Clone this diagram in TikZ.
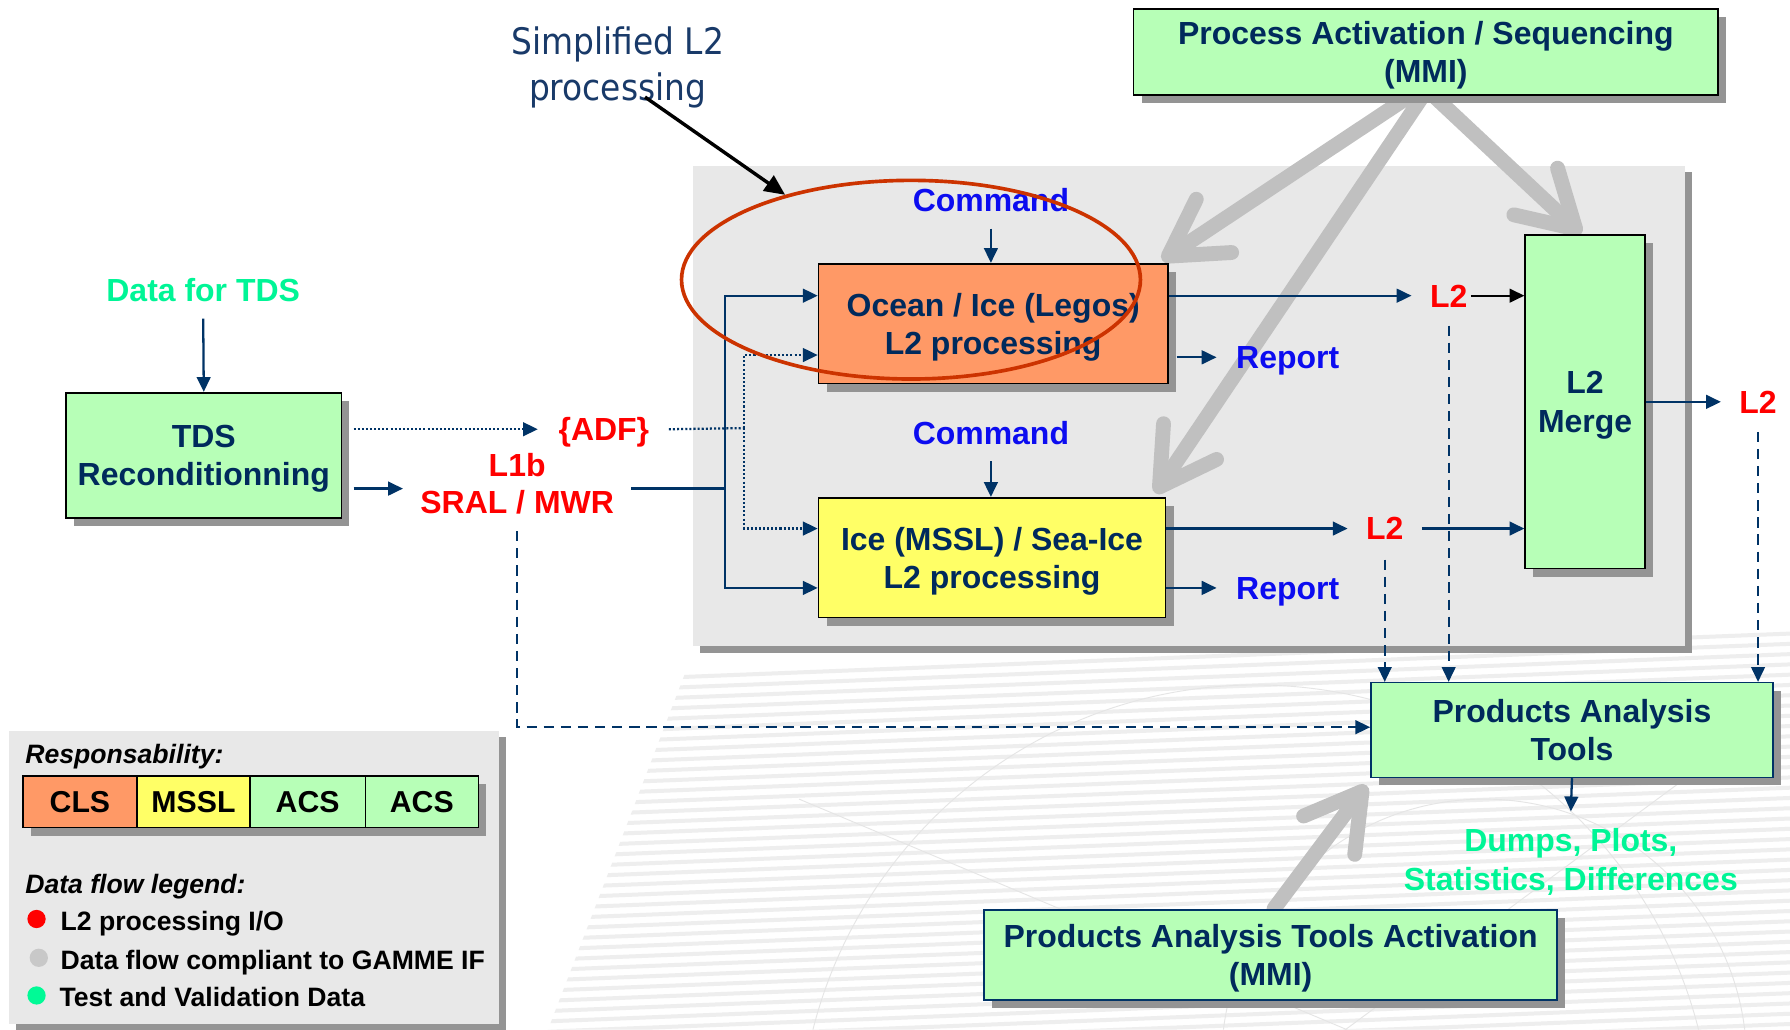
\documentclass[tikz,border=0pt]{standalone}
\usepackage{fontspec}
\setmainfont{Liberation Sans}
\newfontfamily\tahomalike{DejaVu Sans}[FakeStretch=0.9]
\usetikzlibrary{arrows.meta,shadows,shapes.geometric,calc}
\definecolor{navy}{RGB}{0,51,102}
\definecolor{navytext}{RGB}{0,42,92}
\definecolor{boxgreen}{RGB}{183,255,183}
\definecolor{boxorange}{RGB}{255,153,102}
\definecolor{boxyellow}{RGB}{255,255,102}
\definecolor{panelgray}{RGB}{232,232,232}
\definecolor{shadowgray}{RGB}{148,148,148}
\definecolor{arrowgray}{RGB}{192,192,192}
\definecolor{cmdblue}{RGB}{12,12,240}
\definecolor{tvgreen}{RGB}{0,245,150}
\definecolor{ellred}{RGB}{204,51,0}
\definecolor{titleblue}{RGB}{25,58,105}
\definecolor{stripegray}{RGB}{238,238,238}
\newcommand\bxfont{\fontsize{28}{33.5}\selectfont\bfseries}
\newcommand\lgfont{\fontsize{23.3}{28}\selectfont\bfseries}
\tikzset{
  box/.style={draw=black, line width=1.4pt, text=navytext, align=center, inner sep=0pt, font=\bxfont,
    text depth=0pt,
    general shadow={fill=shadowgray, shadow xshift=7pt, shadow yshift=-7pt}},
  panel/.style={fill=panelgray, draw=none, inner sep=0pt,
    general shadow={fill=shadowgray, shadow xshift=6pt, shadow yshift=-6pt}},
  lbl/.style={inner sep=0pt, font=\bxfont, text height=20pt, text depth=0pt},
  mlbl/.style={inner sep=0pt, font=\bxfont, align=center},
  leglbl/.style={inner sep=0pt, font=\lgfont, text height=17pt, text depth=0pt, anchor=west},
  legbox/.style={draw=black, line width=1.4pt, inner sep=0pt, font=\fontsize{26.5}{30}\selectfont\bfseries,
    minimum height=45pt, text height=19pt, text depth=0pt,
    general shadow={fill=shadowgray, shadow xshift=7pt, shadow yshift=-7pt}},
  dotc/.style={circle, inner sep=0pt, minimum size=16pt},
  flowline/.style={navy, line width=2pt},
  flow/.style={flowline, -{Triangle[length=13pt,width=12pt]}},
  blackflow/.style={black, line width=2pt, -{Triangle[length=13pt,width=12pt]}},
  dotline/.style={navy, line width=2pt, dash pattern=on 1.8pt off 1.8pt},
  dotflow/.style={dotline, -{Triangle[length=13pt,width=12pt]}},
  dashflow/.style={navy, line width=1.8pt, dash pattern=on 9pt off 6pt, -{Triangle[length=13pt,width=12pt]}},
  garrow/.style={arrowgray, line width=13pt, line cap=round,
    -{Straight Barb[round, length=48pt, width=56pt]}},
}
\begin{document}
\begin{tikzpicture}[x=1pt,y=-1pt]
\useasboundingbox (0,0) rectangle (1568,902);
\fill[white] (0,0) rectangle (1568,902);

% faint background watermark
\begin{scope}
  \clip (480,902) -- (600,590) -- (1568,540) -- (1568,902) -- cycle;
  \foreach \k in {0,...,42} {
    \draw[stripegray, line width=3.5pt] (420,{600+\k*9}) -- (1568,{555+\k*9});
  }
  \draw[gray!20, line width=0.8pt] (1300,930) circle (230);
  \draw[gray!20, line width=0.8pt] (1100,1000) circle (400);
  \draw[gray!20, line width=0.8pt] (1560,620) -- (1100,960);
  \draw[gray!20, line width=0.8pt] (700,700) -- (1180,902);
\end{scope}

% panels
\node[panel, minimum width=869pt, minimum height=421pt] (panel) at (1041.5,355.5) {};
\node[panel, minimum width=429pt, minimum height=257pt] (legend) at (222.5,768.5) {};

% gray activation arrows (under the boxes)
\draw[garrow] (1232,86) -- (1018,228);
\draw[garrow] (1245,86) -- (1012,432);
\draw[garrow] (1258,86) -- (1385,205);
\draw[garrow] (1116,796) -- (1197,688);

% boxes
\node[box, fill=boxgreen, minimum width=512pt, minimum height=75pt] (proc) at (1249,45.5) {Process Activation / Sequencing\\(MMI)};
\node[box, fill=boxorange, minimum width=306pt, minimum height=105pt] (ocean) at (870,283.5) {Ocean / Ice (Legos)\\L2 processing};
\node[box, fill=boxyellow, minimum width=304pt, minimum height=105pt] (ice) at (869,488.5) {Ice (MSSL) / Sea-Ice\\L2 processing};
\node[box, fill=boxgreen, minimum width=105pt, minimum height=292pt] (merge) at (1388.5,352) {L2\\Merge};
\node[box, fill=boxgreen, minimum width=241pt, minimum height=110pt] (tds) at (178.5,399) {TDS\\Reconditionning};
\node[box, draw=navy, fill=boxgreen, minimum width=352pt, minimum height=83pt] (pat) at (1377,639.5) {Products Analysis\\Tools};
\node[box, draw=navy, fill=boxgreen, minimum width=502pt, minimum height=79pt] (pata) at (1113,836.5) {Products Analysis Tools Activation\\(MMI)};

% labels
\node[lbl, text=tvgreen] (dtds) at (178,254) {Data for TDS};
\node[lbl, text=red] (adf) at (529,376) {\{ADF\}};
\node[lbl, text=red] (l1b) at (453,407) {L1b};
\node[lbl, text=red] (sral) at (453,440) {SRAL / MWR};
\node[lbl, text=cmdblue] (cmd1) at (868,175) {Command};
\node[lbl, text=cmdblue] (cmd2) at (868,379) {Command};
\node[lbl, text=red] (l2a) at (1269,259) {L2};
\node[lbl, text=red] (l2b) at (1213,463) {L2};
\node[lbl, text=red] (l2c) at (1540,352) {L2};
\node[lbl, text=cmdblue] (rep1) at (1128,313) {Report};
\node[lbl, text=cmdblue] (rep2) at (1128,515) {Report};
\node[mlbl, text=tvgreen] (dumps) at (1376,755) {Dumps, Plots,\\Statistics, Differences};
\node[inner sep=0pt, font=\tahomalike\fontsize{32}{40}\selectfont, text=titleblue, align=center] (simp) at (541,59) {Simplified L2\\processing};

% connectors
\coordinate (dv) at (652,375);
\coordinate (sv) at (635,428);
\coordinate (sin) at (353,428);
\draw[flow] ([yshift=-15pt]dtds.south) -- (tds.north);
\draw[dotflow] ([xshift=10pt]tds.east |- adf.west) -- ([xshift=-18pt]adf.west);
\draw[dotline] ([xshift=17pt]adf.east) -- (dv);
\draw[dotflow] (dv) |- ([yshift=-27.5pt]ocean.west);
\draw[dotflow] (dv) |- ([yshift=25.5pt]ice.west);
\draw[flow] ([xshift=10pt]tds.east |- sin) -- (sin);
\draw[flowline] ([xshift=15pt]sral.east |- sv) -- (sv);
\draw[flow] (sv) |- ([yshift=24.5pt]ocean.west);
\draw[flow] (sv) |- ([yshift=-26.5pt]ice.west);
\draw[flow] ([yshift=-15pt]cmd1.south) -- (cmd1.south |- ocean.north);
\draw[flow] ([yshift=-15pt]cmd2.south) -- (cmd2.south |- ice.north);
\draw[flow] (ocean.east |- l2a.west) -- ([xshift=-16pt]l2a.west);
\draw[blackflow] ([xshift=3pt]l2a.east) -- (merge.west |- l2a.east);
\draw[flow] ([xshift=7pt]ocean.east |- rep1.west) -- ([xshift=-17pt]rep1.west);
\draw[flow] (ice.east |- l2b.west) -- ([xshift=-16pt]l2b.west);
\draw[flow] ([xshift=16pt]l2b.east) -- (merge.west |- l2b.east);
\draw[flow] (ice.east |- rep2.west) -- ([xshift=-17pt]rep2.west);
\draw[flow] (merge.east |- l2c.west) -- ([xshift=-16pt]l2c.west);
\draw[dashflow] ([yshift=-16pt]l2a.south) -- (l2a.south |- pat.north);
\draw[dashflow] ([yshift=-17pt]l2b.south) -- (l2b.south |- pat.north);
\draw[dashflow] ([yshift=-16pt]l2c.south) -- (l2c.south |- pat.north);
\draw[dashflow] ([yshift=-15pt]sral.south) |- ([yshift=2.5pt]pat.west);
\draw[flow] (pat.south) -- ([yshift=15pt]dumps.north);

% legend content
\node[leglbl, font=\lgfont\itshape] (resp) at (22,660) {Responsability:};
\node[legbox, fill=boxorange, minimum width=100pt] (cls) at (70,702.5) {CLS};
\node[legbox, fill=boxyellow, minimum width=99pt] (mssl) at (169.5,702.5) {MSSL};
\node[legbox, fill=boxgreen, minimum width=101pt] (acs1) at (269.5,702.5) {ACS};
\node[legbox, fill=boxgreen, minimum width=99pt] (acs2) at (369.5,702.5) {ACS};
\node[leglbl, font=\lgfont\itshape] (dfl) at (22,774) {Data flow legend:};
\node[dotc, fill=red] (dot1) at (32,805) {};
\node[dotc, fill={rgb,255:red,200;green,200;blue,200}] (dot2) at (34,839) {};
\node[dotc, fill={rgb,255:red,0;green,250;blue,150}] (dot3) at (32,872) {};
\node[leglbl] (t1) at (53,807) {L2 processing I/O};
\node[leglbl] (t2) at (53,841) {Data flow compliant to GAMME IF};
\node[leglbl] (t3) at (52,873) {Test and Validation Data};

% red ellipse and pointer
\node[draw=ellred, line width=3.2pt, ellipse, minimum width=402pt, minimum height=174pt, inner sep=0pt] (ell) at (798,245) {};
\draw[black, line width=3pt, -{Triangle[length=18pt,width=16pt]}] ([shift={(24,26)}]simp.center) -- (ell.146);
\end{tikzpicture}
\end{document}
